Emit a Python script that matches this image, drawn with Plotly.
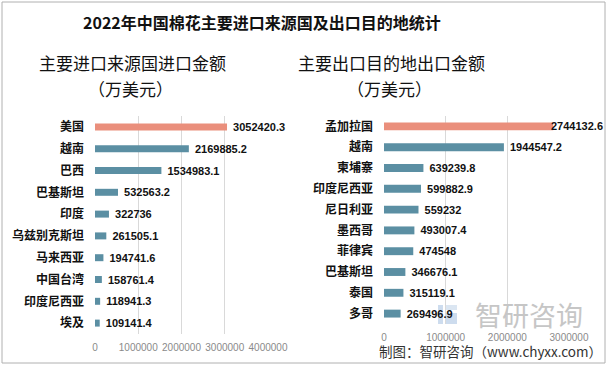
import plotly.graph_objects as go

W, H = 608, 366

imp_countries = ["美国", "越南", "巴西", "巴基斯坦", "印度", "乌兹别克斯坦", "马来西亚", "中国台湾", "印度尼西亚", "埃及"]
imp_values = [3052420.3, 2169885.2, 1534983.1, 532563.2, 322736, 261505.1, 194741.6, 158761.4, 118941.3, 109141.4]

exp_countries = ["孟加拉国", "越南", "柬埔寨", "印度尼西亚", "尼日利亚", "墨西哥", "菲律宾", "巴基斯坦", "泰国", "多哥"]
exp_values = [2744132.6, 1944547.2, 639239.8, 599882.9, 559232, 493007.4, 474548, 346676.1, 315119.1, 269496.9]

imp_ticks = [0, 1000000, 2000000, 3000000, 4000000]
exp_ticks = [0, 1000000, 2000000, 3000000]

HI = "#EA8F7C"
BASE = "#5B8FA3"

def px(x):
    return x / W

def py(y):
    return 1 - y / H

def fmt(v):
    return ("%.1f" % v).rstrip("0").rstrip(".")

NB = "\u00a0"
cat_font = dict(family="Noto Sans CJK SC", size=12, color="#111111")
val_font = dict(family="Liberation Sans", size=11, color="#111111")
tick_font = dict(family="Liberation Sans", size=10, color="#8a8a8a")

fig = go.Figure()
fig.add_trace(go.Bar(
    y=imp_countries, x=imp_values, orientation="h",
    marker=dict(color=[HI] + [BASE] * (len(imp_values) - 1), line=dict(width=0)),
    width=0.32,
    text=[NB + "<b>%s</b>" % fmt(v) for v in imp_values], textposition="outside",
    textfont=val_font, cliponaxis=False, constraintext="none",
    xaxis="x", yaxis="y", showlegend=False, hoverinfo="skip",
))
fig.add_trace(go.Bar(
    y=exp_countries, x=exp_values, orientation="h",
    marker=dict(color=[HI] + [BASE] * (len(exp_values) - 1), line=dict(width=0)),
    width=0.38,
    text=["" if i == 0 else NB + "<b>%s</b>" % fmt(v) for i, v in enumerate(exp_values)],
    textposition=["none"] + ["outside"] * (len(exp_values) - 1),
    textfont=val_font, cliponaxis=False, constraintext="none",
    xaxis="x2", yaxis="y2", showlegend=False, hoverinfo="skip",
))

grid = "#d9d9d9"
fig.update_layout(
    width=W, height=H,
    margin=dict(l=0, r=0, t=0, b=0, autoexpand=False),
    paper_bgcolor="white", plot_bgcolor="white",
    xaxis=dict(domain=[px(95), px(268)], range=[0, 4000000], tickvals=imp_ticks,
               ticktext=[str(t) for t in imp_ticks], tickfont=tick_font, tickangle=0,
               showgrid=True, gridcolor=grid, gridwidth=1, zeroline=False, automargin=False,
               showline=False, anchor="y", ticks="", ticklabelstandoff=6),
    yaxis=dict(domain=[py(334), py(116)], autorange="reversed", anchor="x", automargin=False,
               tickfont=cat_font, showgrid=False, zeroline=False, showline=False,
               ticks="", ticklabelstandoff=10,
               tickvals=imp_countries, ticktext=["<b>%s</b>" % c for c in imp_countries]),
    xaxis2=dict(domain=[px(384), px(569)], range=[0, 3000000], tickvals=exp_ticks,
                ticktext=[str(t) for t in exp_ticks], tickfont=tick_font, tickangle=0,
                showgrid=True, gridcolor=grid, gridwidth=1, zeroline=False, automargin=False,
                showline=False, anchor="y2", ticks="", ticklabelstandoff=6),
    yaxis2=dict(domain=[py(324), py(116)], autorange="reversed", anchor="x2", automargin=False,
                tickfont=cat_font, showgrid=False, zeroline=False, showline=False,
                ticks="", ticklabelstandoff=10,
                tickvals=exp_countries, ticktext=["<b>%s</b>" % c for c in exp_countries]),
)

# label of the top export bar overlaps the bar end slightly, as in the reference
fig.add_annotation(x=exp_values[0], y=exp_countries[0], xref="x2", yref="y2",
                   text="<b>%s</b>" % fmt(exp_values[0]), showarrow=False,
                   xanchor="left", yanchor="middle", xshift=-4, font=val_font)

anns = [
    dict(text="<b>2022年中国棉花主要进口来源国及出口目的地统计</b>", x=px(262), y=py(22),
         font=dict(family="Noto Sans CJK SC", size=16, color="#111111")),
    dict(text="主要进口来源国进口金额", x=px(132), y=py(63),
         font=dict(family="Noto Sans CJK SC", size=17, color="#111111")),
    dict(text="（万美元）", x=px(130), y=py(88),
         font=dict(family="Noto Sans CJK SC", size=17, color="#111111")),
    dict(text="主要出口目的地出口金额", x=px(391), y=py(63),
         font=dict(family="Noto Sans CJK SC", size=17, color="#111111")),
    dict(text="（万美元）", x=px(389), y=py(88),
         font=dict(family="Noto Sans CJK SC", size=17, color="#111111")),
    dict(text="智研咨询", x=px(529), y=py(314),
         font=dict(family="Noto Sans CJK SC", size=27, color="#c6c6c6")),
]
for a in anns:
    a.update(xref="paper", yref="paper", showarrow=False, xanchor="center", yanchor="middle",
             borderpad=0)
    fig.add_annotation(**a)

fig.add_annotation(text="制图：智研咨询（www.chyxx.com）", x=px(603), y=py(351),
                   xref="paper", yref="paper", showarrow=False, xanchor="right", yanchor="middle",
                   borderpad=0, font=dict(family="Noto Sans CJK SC", size=13.5, color="#333333"))

shapes = [
    dict(type="rect", x0=px(438), x1=px(443), y0=py(324), y1=py(305), fillcolor="#cddcee", line=dict(width=0), layer="below"),
    dict(type="rect", x0=px(446), x1=px(457), y0=py(310), y1=py(305), fillcolor="#dbe6f2", line=dict(width=0), layer="below"),
    dict(type="rect", x0=px(446), x1=px(457), y0=py(324), y1=py(313), fillcolor="#cddcee", line=dict(width=0), layer="below"),
    dict(type="rect", x0=px(2), x1=px(605), y0=py(363), y1=py(2), line=dict(color="#b0b0b0", width=1),
         fillcolor="rgba(0,0,0,0)", layer="above"),
]
for s in shapes:
    s.update(xref="paper", yref="paper")
    fig.add_shape(**s)

fig.write_html("out.html", config={"displayModeBar": False},
               post_script="document.body.style.margin='0';document.body.style.overflow='hidden';")
